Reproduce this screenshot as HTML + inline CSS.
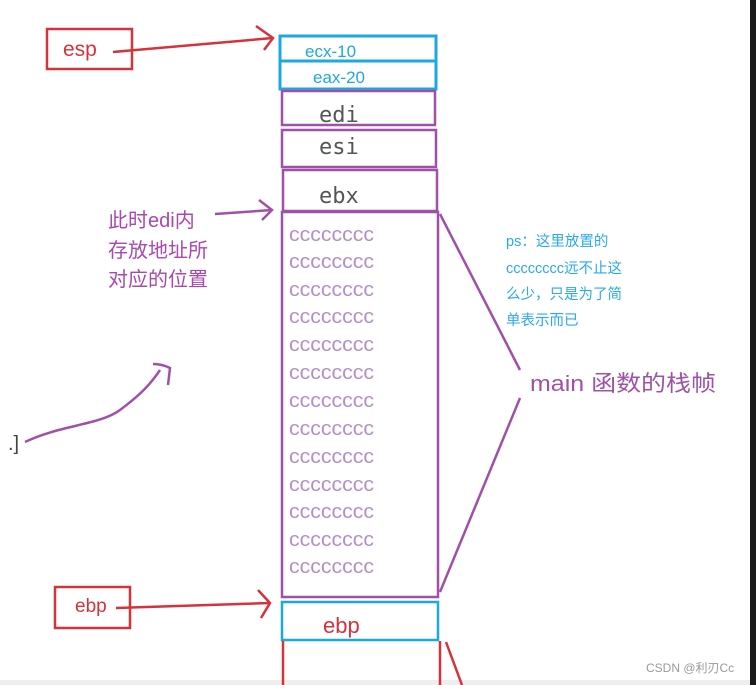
<!DOCTYPE html>
<html><head><meta charset="utf-8"><style>
html,body{margin:0;padding:0;background:#fff;width:756px;height:685px;overflow:hidden}
svg{display:block}
text{font-family:"Liberation Sans","Noto Sans CJK SC",sans-serif}
text.m{font-family:"DejaVu Sans Mono","Liberation Mono",monospace}
</style></head><body>
<svg width="756" height="685" viewBox="0 0 756 685" xmlns="http://www.w3.org/2000/svg">
<rect x="750" y="0" width="6" height="685" fill="#1a1a1a"/>
<rect x="0" y="680" width="750" height="5" fill="#eee"/>
<!-- esp -->
<rect x="47" y="29" width="85" height="40" fill="none" stroke="#d6323a" stroke-width="2.5"/>
<text x="63" y="56" font-size="21" fill="#d6323a">esp</text>
<path d="M113 52 L273 38 M256 26 L273 38 L264 50" fill="none" stroke="#d6323a" stroke-width="2.5"/>
<!-- blue boxes -->
<rect x="280" y="36" width="156" height="25" fill="none" stroke="#1ea8e0" stroke-width="3"/>
<text x="305" y="57" font-size="17" fill="#1ea8e0">ecx-10</text>
<rect x="280" y="61" width="156" height="28" fill="none" stroke="#1ea8e0" stroke-width="3"/>
<text x="313" y="83" font-size="17" fill="#1ea8e0">eax-20</text>
<!-- purple boxes -->
<g fill="none" stroke="#a050a8" stroke-width="2.5">
<rect x="282" y="91" width="153" height="34"/>
<rect x="282" y="130" width="154" height="37"/>
<rect x="283" y="170" width="154" height="41"/>
<rect x="282" y="212" width="156" height="385"/>
<path d="M440 214 L520 370 M520 398 L440 592"/>
</g>
<text class="m" x="319" y="122" font-size="22" fill="#555">edi</text>
<text class="m" x="319" y="154" font-size="22" fill="#555">esi</text>
<text class="m" x="319" y="203" font-size="22" fill="#555">ebx</text>
<g font-size="20" fill="#b590c8">
<text x="289" y="241" textLength="85" lengthAdjust="spacingAndGlyphs">cccccccc</text><text x="289" y="268" textLength="85" lengthAdjust="spacingAndGlyphs">cccccccc</text>
<text x="289" y="296" textLength="85" lengthAdjust="spacingAndGlyphs">cccccccc</text><text x="289" y="323" textLength="85" lengthAdjust="spacingAndGlyphs">cccccccc</text>
<text x="289" y="351" textLength="85" lengthAdjust="spacingAndGlyphs">cccccccc</text><text x="289" y="379" textLength="85" lengthAdjust="spacingAndGlyphs">cccccccc</text>
<text x="289" y="407" textLength="85" lengthAdjust="spacingAndGlyphs">cccccccc</text><text x="289" y="435" textLength="85" lengthAdjust="spacingAndGlyphs">cccccccc</text>
<text x="289" y="463" textLength="85" lengthAdjust="spacingAndGlyphs">cccccccc</text><text x="289" y="491" textLength="85" lengthAdjust="spacingAndGlyphs">cccccccc</text>
<text x="289" y="518" textLength="85" lengthAdjust="spacingAndGlyphs">cccccccc</text><text x="289" y="546" textLength="85" lengthAdjust="spacingAndGlyphs">cccccccc</text>
<text x="289" y="573" textLength="85" lengthAdjust="spacingAndGlyphs">cccccccc</text>
</g>
<text x="530" y="391" font-size="22" fill="#a050a8" textLength="186" lengthAdjust="spacingAndGlyphs">main 函数的栈帧</text>
<g font-size="14.5" fill="#2aaae8">
<text x="506" y="246">ps：这里放置的</text>
<text x="506" y="273">cccccccc远不止这</text>
<text x="506" y="299">么少，只是为了简</text>
<text x="506" y="325">单表示而已</text>
</g>
<g font-size="20" fill="#a848b0">
<text x="108" y="227">此时edi内</text>
<text x="108" y="257">存放地址所</text>
<text x="108" y="286">对应的位置</text>
</g>
<path d="M215 214 L272 210 M259 200 L272 210 L262 220" fill="none" stroke="#a050a8" stroke-width="2.5"/>
<path d="M25 442 C60 425 100 425 120 410 C140 395 150 385 160 370 M153 364 C160 364 166 366 170 368 L168 385" fill="none" stroke="#a050a8" stroke-width="2.5"/>
<text x="8" y="450" font-size="20" fill="#444">.]</text>
<!-- ebp -->
<rect x="55" y="587" width="75" height="41" fill="none" stroke="#d6323a" stroke-width="2.5"/>
<text x="75" y="612" font-size="19" fill="#d6323a">ebp</text>
<path d="M116 608 L270 603 M258 590 L270 603 L261 618" fill="none" stroke="#d6323a" stroke-width="2.5"/>
<rect x="282" y="602" width="156" height="38" fill="none" stroke="#1ea8e0" stroke-width="2.5"/>
<text x="323" y="633" font-size="22" fill="#d6323a">ebp</text>
<path d="M283 641 L283 685 M440 641 L440 685 M446 642 L462 685" fill="none" stroke="#d6323a" stroke-width="2.5"/>
<text x="646" y="672" font-size="12" fill="#999">CSDN @利刃Cc</text>
</svg>
</body></html>
